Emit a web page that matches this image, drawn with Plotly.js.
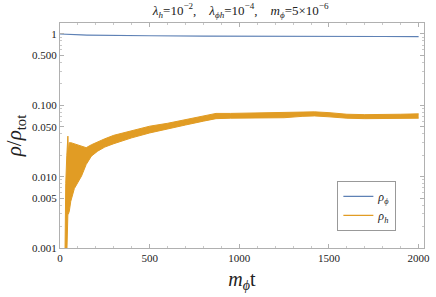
<!DOCTYPE html>
<html>
<head>
<meta charset="utf-8">
<script src="https://cdn.plot.ly/plotly-3.0.1.min.js"></script>
<style>html,body{margin:0;padding:0;background:#fff;}#chart{width:436px;height:297px;}</style>
</head>
<body>
<div id="chart"></div>
<script>
// rho_phi / rho_tot (blue line)
const tPhi = [0, 20, 40, 50, 60, 70, 80, 90, 100, 120, 150, 200, 300, 500, 800, 1000, 1200, 1500, 1800, 2000];
const rhoPhi = [1.0, 0.995, 0.985, 0.97, 0.985, 0.96, 0.975, 0.962, 0.975, 0.97, 0.965, 0.96, 0.955, 0.945, 0.935, 0.928, 0.926, 0.925, 0.922, 0.92];

// rho_h / rho_tot oscillation envelope (orange band)
const tH = [28, 32, 38, 44, 47, 52, 60, 80, 100, 120, 146, 175, 210, 250, 300, 400, 500, 600, 700, 800, 870, 950, 1050, 1150, 1250, 1350, 1420, 1500, 1600, 1700, 1800, 1900, 2000];
const rhoHUpper = [0.0009, 0.008, 0.02, 0.037, 0.022, 0.030, 0.030, 0.029, 0.028, 0.027, 0.0255, 0.028, 0.031, 0.034, 0.038, 0.044, 0.051, 0.056, 0.063, 0.070, 0.077, 0.077, 0.078, 0.078, 0.079, 0.081, 0.081, 0.079, 0.075, 0.074, 0.074, 0.075, 0.076];
const rhoHLower = [0.0003, 0.0004, 0.0008, 0.003, 0.003, 0.0033, 0.0045, 0.0068, 0.0085, 0.0102, 0.0148, 0.0194, 0.0228, 0.026, 0.029, 0.035, 0.041, 0.047, 0.053, 0.060, 0.065, 0.066, 0.066, 0.066, 0.067, 0.070, 0.071, 0.069, 0.066, 0.065, 0.065, 0.065, 0.066];

const yTickVals = [1, 0.5, 0.1, 0.05, 0.01, 0.005, 0.001];
const yTickText = ["1", "0.500", "0.100", "0.050", "0.010", "0.005", "0.001"];
const xTickVals = [0, 500, 1000, 1500, 2000];

const blue = '#5e81b5';
const orange = '#e19c24';
const serif = '"Liberation Serif", "Times New Roman", serif';

const traces = [
  {x: tPhi, y: rhoPhi, mode: 'lines', line: {color: blue, width: 1.2}, name: '<i>ρ</i><sub><i>ϕ</i></sub>'},
  {x: [null], y: [null], mode: 'lines', line: {color: orange, width: 1.2}, name: '<i>ρ</i><sub><i>h</i></sub>'},
  {x: tH, y: rhoHLower, mode: 'lines', line: {color: orange, width: 1}, showlegend: false, hoverinfo: 'skip'},
  {x: tH, y: rhoHUpper, mode: 'lines', line: {color: orange, width: 1}, fill: 'tonexty', fillcolor: orange, showlegend: false, hoverinfo: 'skip'}
];

const axisCommon = {
  showline: true, linecolor: '#b0b0b0', linewidth: 1, mirror: 'ticks',
  ticks: 'inside', ticklen: 4, tickcolor: '#b0b0b0', showgrid: false, zeroline: false,
  tickfont: {family: serif, size: 11, color: '#222'}
};

const layout = {
  width: 436, height: 297,
  margin: {l: 60, r: 12, t: 23, b: 49},
  paper_bgcolor: '#fff', plot_bgcolor: '#fff',
  font: {family: serif, color: '#222'},
  title: {
    text: '<i>λ</i><sub><i>h</i></sub>=10<sup>−2</sup>,    <i>λ</i><sub><i>ϕh</i></sub>=10<sup>−4</sup>,    <i>m</i><sub><i>ϕ</i></sub>=5×10<sup>−6</sup>',
    font: {family: serif, size: 13, color: '#222'},
    x: 0.552, xanchor: 'center', y: 0.965, yanchor: 'middle'
  },
  xaxis: Object.assign({}, axisCommon, {
    range: [0, 2030], tickmode: 'array', tickvals: xTickVals, ticktext: xTickVals.map(String),
    minor: {ticks: 'inside', ticklen: 2, tickcolor: '#c8c8c8', dtick: 100},
    title: {text: '<i>m</i><sub><i>ϕ</i></sub>t', font: {family: serif, size: 20, color: '#222'}, standoff: 8}
  }),
  yaxis: Object.assign({}, axisCommon, {
    type: 'log', range: [-3, 0.154], tickmode: 'array', tickvals: yTickVals, ticktext: yTickText,
    minor: {ticks: 'inside', ticklen: 2, tickcolor: '#c8c8c8', tickmode: 'array',
      tickvals: [0.002,0.003,0.004,0.006,0.007,0.008,0.009,0.02,0.03,0.04,0.06,0.07,0.08,0.09,0.2,0.3,0.4,0.6,0.7,0.8,0.9]},
    title: {text: '<i>ρ</i>/<i>ρ</i><sub>tot</sub>', font: {family: serif, size: 21, color: '#222'}, standoff: 4}
  }),
  legend: {
    x: 0.762, y: 0.298, xanchor: 'left', yanchor: 'top', traceorder: 'normal',
    bordercolor: '#999', borderwidth: 1, bgcolor: '#fff',
    font: {family: serif, size: 12, color: '#222'},
    itemwidth: 30, tracegroupgap: 2
  },
  showlegend: true
};

Plotly.newPlot('chart', traces, layout, {staticPlot: true, displayModeBar: false});
</script>
</body>
</html>
